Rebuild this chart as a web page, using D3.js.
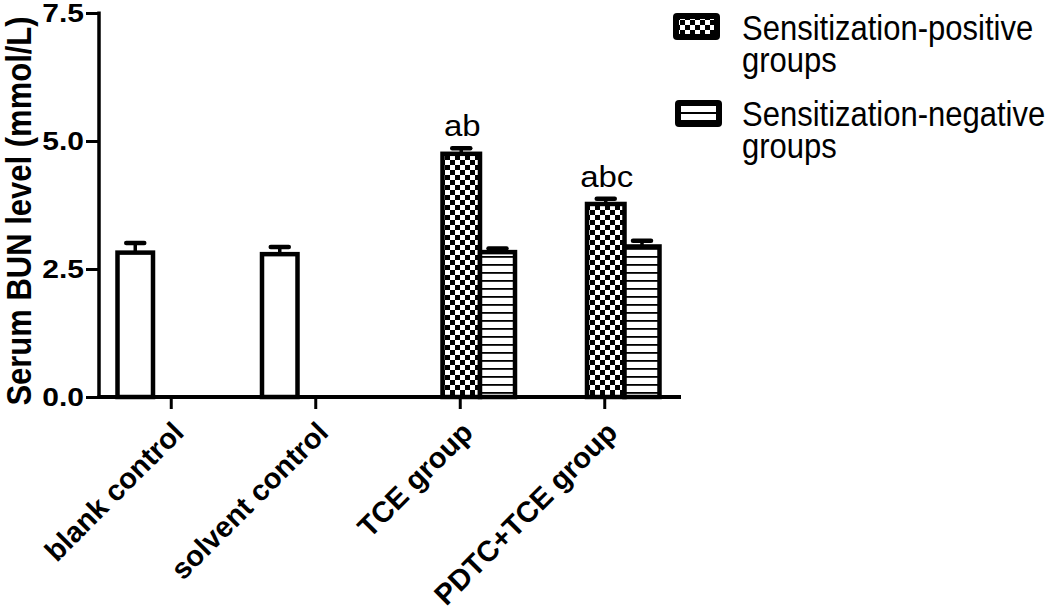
<!DOCTYPE html>
<html>
<head>
<meta charset="utf-8">
<script src="https://cdn.jsdelivr.net/npm/d3@7"></script>
<style>
  html, body { margin: 0; padding: 0; background: #fff; }
  svg { display: block; }
  text { font-family: "Liberation Sans", Arial, sans-serif; fill: #000; }
</style>
</head>
<body>
<svg id="chart" width="1050" height="610"></svg>
<script>
// ---------- data ----------
const categories = ["blank control", "solvent control", "TCE group", "PDTC+TCE group"];
const controlMean = [2.82, 2.79, null, null];
const controlErr  = [0.19, 0.14, null, null];
const positiveMean = [null, null, 4.75, 3.77];
const positiveErr  = [null, null, 0.11, 0.10];
const negativeMean = [null, null, 2.83, 2.94];
const negativeErr  = [null, null, 0.07, 0.11];
const sigLabels = ["", "", "ab", "abc"];
const yTicks = [0, 2.5, 5.0, 7.5];
const yTickLabels = ["0.0", "2.5", "5.0", "7.5"];
const legendLines = [["Sensitization-positive", "groups"], ["Sensitization-negative", "groups"]];
const yTitle = "Serum BUN level (mmol/L)";

// ---------- layout / style ----------
const L = { left: 99, right: 677, axisEnd: 681, top: 13, bottom: 397 };
const series = [
  { mean: controlMean, err: controlErr, offset: -36, width: 35.5, fill: "#fff" },
  { mean: positiveMean, err: positiveErr, offset: 1, width: 37.5, fill: "url(#checker)" },
  { mean: negativeMean, err: negativeErr, offset: 37.25, width: 35, fill: "url(#hlines)" }
];

const svg = d3.select("#chart");
const defs = svg.append("defs");

const chk = defs.append("pattern").attr("id", "checker")
  .attr("patternUnits", "userSpaceOnUse").attr("width", 10).attr("height", 10);
chk.append("rect").attr("width", 10).attr("height", 10).attr("fill", "#fff");
chk.append("rect").attr("x", 0).attr("y", 0).attr("width", 5).attr("height", 5).attr("fill", "#000");
chk.append("rect").attr("x", 5).attr("y", 5).attr("width", 5).attr("height", 5).attr("fill", "#000");

const hl = defs.append("pattern").attr("id", "hlines")
  .attr("patternUnits", "userSpaceOnUse").attr("width", 10).attr("height", 8);
hl.append("rect").attr("width", 10).attr("height", 8).attr("fill", "#fff");
hl.append("rect").attr("x", 0).attr("y", 0).attr("width", 10).attr("height", 1.8).attr("fill", "#000");

const x = d3.scaleBand().domain(categories).range([L.left, L.right]).padding(0);
const y = d3.scaleLinear().domain([0, 7.5]).range([L.bottom, L.top]);

// ---------- bars ----------
series.forEach(s => {
  const items = categories.map((c, i) => ({ c, v: s.mean[i], e: s.err[i] })).filter(d => d.v != null);
  const g = svg.append("g");
  const cx = d => x(d.c) + x.bandwidth() / 2 + s.offset;
  g.selectAll("rect").data(items).join("rect")
    .attr("x", d => cx(d) - s.width / 2)
    .attr("y", d => y(d.v))
    .attr("width", s.width)
    .attr("height", d => y(0) - y(d.v))
    .attr("fill", s.fill)
    .attr("stroke", "#000").attr("stroke-width", 4.5);
  g.selectAll("line.v").data(items).join("line").attr("class", "v")
    .attr("x1", cx).attr("x2", cx)
    .attr("y1", d => y(d.v)).attr("y2", d => y(d.v + d.e))
    .attr("stroke", "#000").attr("stroke-width", 3.5);
  g.selectAll("line.cap").data(items).join("line").attr("class", "cap")
    .attr("x1", d => cx(d) - 9).attr("x2", d => cx(d) + 9)
    .attr("y1", d => y(d.v + d.e)).attr("y2", d => y(d.v + d.e))
    .attr("stroke", "#000").attr("stroke-width", 4.5).attr("stroke-linecap", "round");
});

// significance labels
svg.append("g").selectAll("text").data(categories.map((c, i) => ({ c, t: sigLabels[i], v: positiveMean[i], e: positiveErr[i] })).filter(d => d.t))
  .join("text")
  .attr("transform", d => `translate(${x(d.c) + x.bandwidth() / 2 + series[1].offset + 1},${y(d.v + d.e) - 12}) scale(1,0.9)`)
  .attr("text-anchor", "middle")
  .attr("font-size", 33)
  .text(d => d.t);

// ---------- axes ----------
const xAxis = svg.append("g").attr("transform", `translate(0,${L.bottom})`)
  .call(d3.axisBottom(x).tickSize(12).tickSizeOuter(0));
xAxis.select(".domain").attr("d", `M${L.left - 1.5},0H${L.axisEnd}`).attr("stroke", "#000").attr("stroke-width", 4);
xAxis.selectAll(".tick line").attr("stroke", "#000").attr("stroke-width", 3);
xAxis.selectAll(".tick text")
  .attr("font-size", 29).attr("font-weight", "bold")
  .attr("font-family", "Liberation Sans, Arial, sans-serif")
  .attr("text-anchor", "end")
  .attr("x", 0).attr("y", 0).attr("dy", "0.35em")
  .attr("transform", "translate(7,30) rotate(-45)");

const yAxis = svg.append("g").attr("transform", `translate(${L.left},0)`)
  .call(d3.axisLeft(y).tickValues(yTicks).tickSize(13).tickSizeOuter(0).tickFormat((d, i) => yTickLabels[i]));
yAxis.select(".domain").attr("d", `M0,${L.top - 1.5}V${L.bottom + 2}`).attr("stroke", "#000").attr("stroke-width", 3.5);
yAxis.selectAll(".tick line").attr("stroke", "#000").attr("stroke-width", 3);
yAxis.selectAll(".tick text")
  .attr("font-size", 30).attr("font-weight", "bold")
  .attr("font-family", "Liberation Sans, Arial, sans-serif")
  .attr("x", 0).attr("dy", 0).attr("dominant-baseline", "central")
  .attr("transform", "translate(-15,0) scale(1,0.86)");

// y title
svg.append("text")
  .attr("transform", `translate(31,${(L.top + L.bottom) / 2 + 6}) rotate(-90) scale(1,1.12)`)
  .attr("text-anchor", "middle")
  .attr("font-size", 31).attr("font-weight", "bold")
  .text(yTitle);

// ---------- legend ----------
const lg = svg.append("g");
// swatch 1: checker
lg.append("rect").attr("x", 673).attr("y", 13).attr("width", 47).attr("height", 27).attr("rx", 4).attr("fill", "#000");
lg.append("rect").attr("x", 679).attr("y", 19).attr("width", 35).attr("height", 15).attr("fill", "url(#checker)");
// swatch 2: lines
lg.append("rect").attr("x", 675).attr("y", 100).attr("width", 47).attr("height", 27).attr("rx", 4).attr("fill", "#000");
lg.append("rect").attr("x", 681).attr("y", 106).attr("width", 35).attr("height", 6).attr("fill", "#fff");
lg.append("rect").attr("x", 681).attr("y", 114).attr("width", 35).attr("height", 6).attr("fill", "#fff");

const legendBase = [[40, 72], [126, 158]];
legendLines.forEach((lines, i) => {
  lines.forEach((t, j) => {
    lg.append("text")
      .attr("transform", `translate(742,${legendBase[i][j]}) scale(1,1.12)`)
      .attr("font-size", 31)
      .text(t);
  });
});
</script>
</body>
</html>
